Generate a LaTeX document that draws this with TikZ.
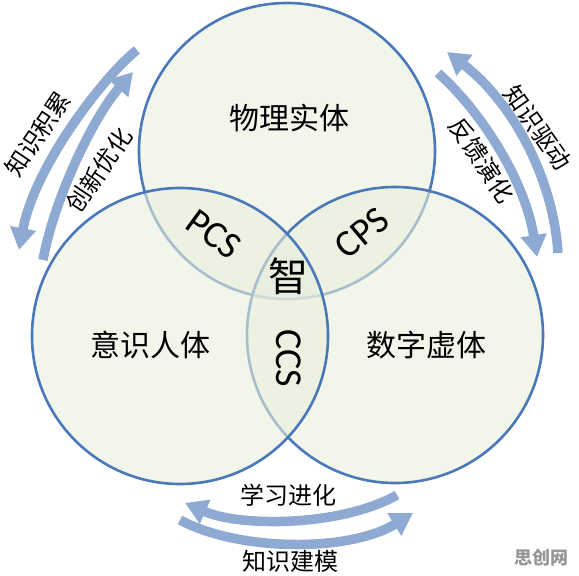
\documentclass[tikz,border=0pt]{standalone}
\usepackage{fontspec}
\setmainfont{Noto Sans CJK SC}
\newfontfamily\latinfont{Carlito}
\usetikzlibrary{arrows.meta}
\definecolor{ringblue}{RGB}{74,120,184}
\definecolor{ringfill}{RGB}{232,238,220}
\definecolor{arrowblue}{RGB}{142,170,211}
\definecolor{markgray}{RGB}{150,150,150}
\tikzset{
  ring/.style={circle, minimum size=296pt, inner sep=0pt, draw=ringblue, line width=2.6pt, fill=ringfill, fill opacity=0.6, draw opacity=1},
  flow/.style={draw=arrowblue, line width=9.5pt, -{Triangle[width=25pt,length=22pt]}},
  bigtext/.style={inner sep=0pt, font=\fontsize{30}{32}\selectfont},
  sidetext/.style={inner sep=0pt, font=\fontsize{24}{26}\selectfont},
  lens/.style={inner sep=0pt, font=\latinfont\fontsize{38}{40}\selectfont},
}
\begin{document}
\begin{tikzpicture}[x=1pt,y=-1pt]
\useasboundingbox (0,0) rectangle (579,576);
% circles (order: top, right, left)
\node[ring] (top) at (287,151) {};
\node[ring] (right) at (395,335) {};
\node[ring] (left) at (180,336) {};
% circle labels
\node[bigtext] (phys) at (289,118) {物理实体};
\node[bigtext] (cons) at (150,345) {意识人体};
\node[bigtext] (digi) at (426,345) {数字虚体};
\node[inner sep=0pt, font=\fontsize{40}{42}\selectfont] (zhi) at (288,276) {智};
\node[lens, rotate=-36] (pcs) at (214,234) {PCS};
\node[lens, rotate=40] (cps) at (362,233) {CPS};
\node[lens, rotate=-90] (ccs) at (289,358) {CCS};
% left arrows
\coordinate (l1s) at (137,50);
\coordinate (l1e) at (19,250);
\coordinate (l2s) at (43,260);
\coordinate (l2e) at (133,72);
\draw[flow] (l1s) .. controls (105,75) and (35,165) .. (l1e);
\draw[flow] (l2s) .. controls (55,195) and (95,115) .. (l2e);
\node[sidetext, rotate=56] (acc) at (38,134) {知识积累};
\node[sidetext, rotate=56] (inn) at (99,170) {创新优化};
% right arrows
\coordinate (r1s) at (558,253);
\coordinate (r1e) at (447,52);
\coordinate (r2s) at (438,73);
\coordinate (r2e) at (537,257);
\draw[flow] (r1s) .. controls (553,175) and (510,100) .. (r1e);
\draw[flow] (r2s) .. controls (480,110) and (525,180) .. (r2e);
\node[sidetext, rotate=-55] (drv) at (538,128) {知识驱动};
\node[sidetext, rotate=-56] (fbk) at (482,160) {反馈演化};
% bottom arrows
\coordinate (b1s) at (397,495);
\coordinate (b1e) at (185,503);
\coordinate (b2s) at (180,520);
\coordinate (b2e) at (413,513);
\draw[flow] (b1s) .. controls (340,527) and (240,527) .. (b1e);
\draw[flow] (b2s) .. controls (240,552) and (350,552) .. (b2e);
\node[sidetext] (lrn) at (288,495) {学习进化};
\node[sidetext] (mdl) at (290,561) {知识建模};
% watermark
\node[inner sep=0pt, font=\bfseries\fontsize{18}{20}\selectfont, text=markgray] (wm) at (541,558) {思创网};
\end{tikzpicture}
\end{document}
